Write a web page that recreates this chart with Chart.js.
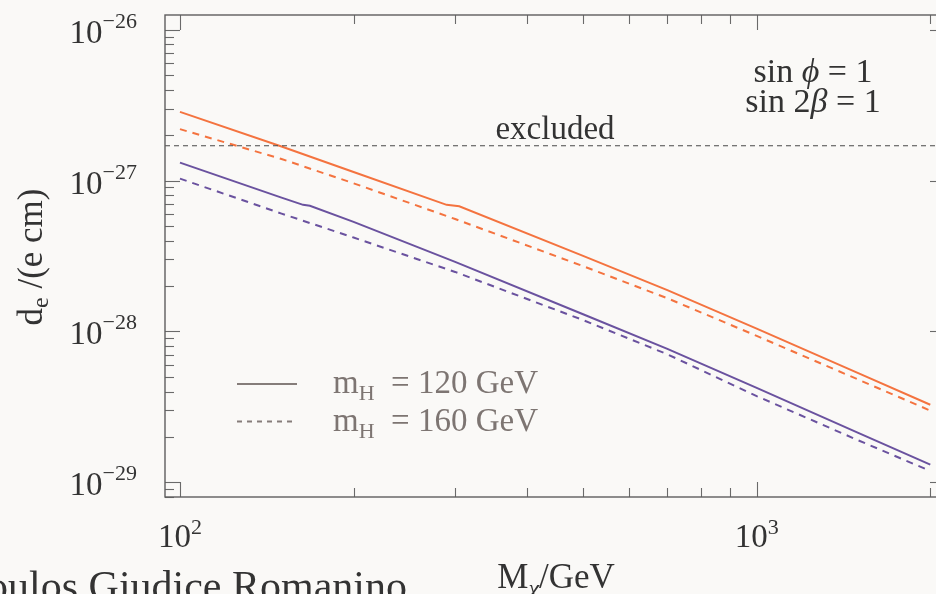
<!DOCTYPE html>
<html>
<head>
<meta charset="utf-8">
<title>EDM of the electron</title>
<script src="https://cdn.jsdelivr.net/npm/chart.js@4.4.1/dist/chart.umd.min.js"></script>
<style>
  html, body { margin: 0; padding: 0; background: #faf9f7; overflow: hidden; }
  #wrap { position: relative; width: 936px; height: 594px; overflow: hidden; }
  #edm { position: absolute; left: 0; top: 0; }
</style>
</head>
<body>
<div id="wrap"><canvas id="edm" width="960" height="594"></canvas></div>
<script>
// ---- data (M_chi in GeV, d_e in e cm) ----
const massGrid = [100, 150, 200, 300, 500, 700, 1000, 1500, 2000];
// the m_H = 120 curves have a small step, so they get two extra samples there
const massOrange120 = [100, 150, 200, 290, 305, 500, 700, 1000, 1500, 2000];
const massPurple120 = [100, 150, 163.5, 168, 200, 300, 500, 700, 1000, 1500, 2000];

const orange120 = [2.85e-27, 1.68e-27, 1.14e-27, 6.90e-28, 6.75e-28, 3.17e-28, 1.88e-28, 1.045e-28, 5.30e-29, 3.27e-29];
const orange160 = [2.19e-27, 1.39e-27, 9.59e-28, 5.56e-28, 2.71e-28, 1.66e-28, 9.35e-29, 4.80e-29, 2.99e-29];
const purple120 = [1.315e-27, 7.71e-28, 6.90e-28, 6.80e-28, 5.32e-28, 2.89e-28, 1.30e-28, 7.67e-29, 4.23e-29, 2.13e-29, 1.31e-29];
const purple160 = [1.03e-27, 6.04e-28, 4.19e-28, 2.48e-28, 1.19e-28, 7.06e-29, 3.73e-29, 1.90e-29, 1.19e-29];

const excludedBound = 1.7e-27;

// axis ranges and tick decades
const xRange = [94.2, 2121];
const yRange = [8.04e-30, 1.25e-26];
const xDecades = [2, 3];
const yDecades = [-29, -28, -27, -26];

const legendRows = [
  { mass: '120', dash: [] },
  { mass: '160', dash: [5, 5] }
];

// ---- helpers ----
const SERIF = '"Liberation Serif", "DejaVu Serif", serif';
const ORANGE = '#f4733f';
const PURPLE = '#6a529f';

const pairs = (xs, ys) => ys.map((v, i) => ({ x: xs[i], y: v }));

// draws a row of text runs: [text, size, dy, style]
function drawRuns(ctx, parts, x, y, align) {
  const fontOf = p => `${p[3] || ''} ${p[1]}px ${SERIF}`;
  let w = 0;
  for (const p of parts) { ctx.font = fontOf(p); w += ctx.measureText(p[0]).width; }
  let cx = align === 'center' ? x - w / 2 : align === 'right' ? x - w : x;
  ctx.textAlign = 'left';
  ctx.textBaseline = 'alphabetic';
  for (const p of parts) {
    ctx.font = fontOf(p);
    ctx.fillText(p[0], cx, y + (p[2] || 0));
    cx += ctx.measureText(p[0]).width;
  }
  return w;
}

function seg(ctx, x1, y1, x2, y2) {
  ctx.beginPath();
  ctx.moveTo(x1, y1);
  ctx.lineTo(x2, y2);
  ctx.stroke();
}

// frame, inward ticks, tick labels, titles and notes
const frameTicks = {
  id: 'frameTicks',
  afterDatasetsDraw(chart) {
    const { ctx, chartArea: a, scales: { x, y } } = chart;
    ctx.save();

    // ticks
    ctx.strokeStyle = '#6a6a6a';
    ctx.lineWidth = 1.1;
    for (let d = 1; d <= 3; d++) {
      for (let m = 1; m <= 9; m++) {
        const v = m * Math.pow(10, d);
        if (v < x.min || v > x.max) continue;
        const px = Math.round(x.getPixelForValue(v)) + 0.5;
        const len = m === 1 ? 15 : 9;
        seg(ctx, px, a.bottom, px, a.bottom - len);
        seg(ctx, px, a.top, px, a.top + len);
      }
    }
    for (let d = -30; d <= -26; d++) {
      for (let m = 1; m <= 9; m++) {
        const v = m * Math.pow(10, d);
        if (v < y.min || v > y.max) continue;
        const py = Math.round(y.getPixelForValue(v)) + 0.5;
        const len = m === 1 ? 15 : 9;
        seg(ctx, a.left, py, a.left + len, py);
        seg(ctx, a.right, py, a.right - len, py);
      }
    }

    // frame
    ctx.strokeStyle = '#5e5e5e';
    ctx.lineWidth = 1.4;
    ctx.strokeRect(a.left, a.top, a.right - a.left, a.bottom - a.top);

    // tick labels
    ctx.fillStyle = '#333333';
    xDecades.forEach(d => {
      const px = x.getPixelForValue(Math.pow(10, d));
      drawRuns(ctx, [['10', 33], [String(d), 22, -13]], px, 547, 'center');
    });
    yDecades.forEach(d => {
      const py = y.getPixelForValue(Math.pow(10, d));
      drawRuns(ctx, [['10', 33], ['\u2212' + Math.abs(d), 22, -15]], 137, py + 13, 'right');
    });

    // axis titles
    drawRuns(ctx, [['M', 35], ['\u03c7', 24, 8, 'italic'], ['/GeV', 35]], 556, 588, 'center');
    ctx.save();
    ctx.translate(42, 257);
    ctx.rotate(-Math.PI / 2);
    drawRuns(ctx, [['d', 35], ['e', 24, 6], [' /(e cm)', 35]], 0, 0, 'center');
    ctx.restore();

    // notes
    drawRuns(ctx, [['sin ', 34], ['\u03d5', 34, 0, 'italic'], [' = 1', 34]], 813, 82, 'center');
    drawRuns(ctx, [['sin 2', 34], ['\u03b2', 34, 0, 'italic'], [' = 1', 34]], 813, 112, 'center');
    drawRuns(ctx, [['excluded', 33]], 555, 139, 'center');

    // legend
    ctx.strokeStyle = '#857d7a';
    ctx.fillStyle = '#7d7572';
    ctx.lineWidth = 2;
    legendRows.forEach((row, i) => {
      const ly = 384 + i * 37.5;
      ctx.setLineDash(row.dash);
      seg(ctx, 237, ly, row.dash.length ? 292 : 297, ly);
      ctx.setLineDash([]);
      drawRuns(ctx, [['m', 33], ['H', 22, 7], ['  = ' + row.mass + ' GeV', 33]], 333, ly + 9, 'left');
    });

    // author line along the bottom
    ctx.fillStyle = '#333333';
    drawRuns(ctx, [['Dimopoulos Giudice Romanino', 42]], 407, 600, 'right');

    ctx.restore();
  }
};

const line = (data, color, dash) => ({
  data,
  borderColor: color,
  borderWidth: 2,
  borderDash: dash,
  pointRadius: 0,
  tension: 0,
  fill: false
});

new Chart(document.getElementById('edm'), {
  type: 'line',
  data: {
    datasets: [
      {
        data: [{ x: xRange[0], y: excludedBound }, { x: xRange[1], y: excludedBound }],
        borderColor: '#4a4a4a', borderWidth: 1.2, borderDash: [5, 4], pointRadius: 0
      },
      line(pairs(massOrange120, orange120), ORANGE, []),
      line(pairs(massGrid, orange160), ORANGE, [7, 6]),
      line(pairs(massPurple120, purple120), PURPLE, []),
      line(pairs(massGrid, purple160), PURPLE, [7, 6])
    ]
  },
  options: {
    responsive: false,
    animation: false,
    events: [],
    layout: { padding: { left: 165, top: 15, right: 15, bottom: 97 } },
    scales: {
      x: { type: 'logarithmic', min: xRange[0], max: xRange[1], display: false },
      y: { type: 'logarithmic', min: yRange[0], max: yRange[1], display: false }
    },
    plugins: { legend: { display: false }, tooltip: { enabled: false } }
  },
  plugins: [frameTicks]
});
</script>
</body>
</html>
